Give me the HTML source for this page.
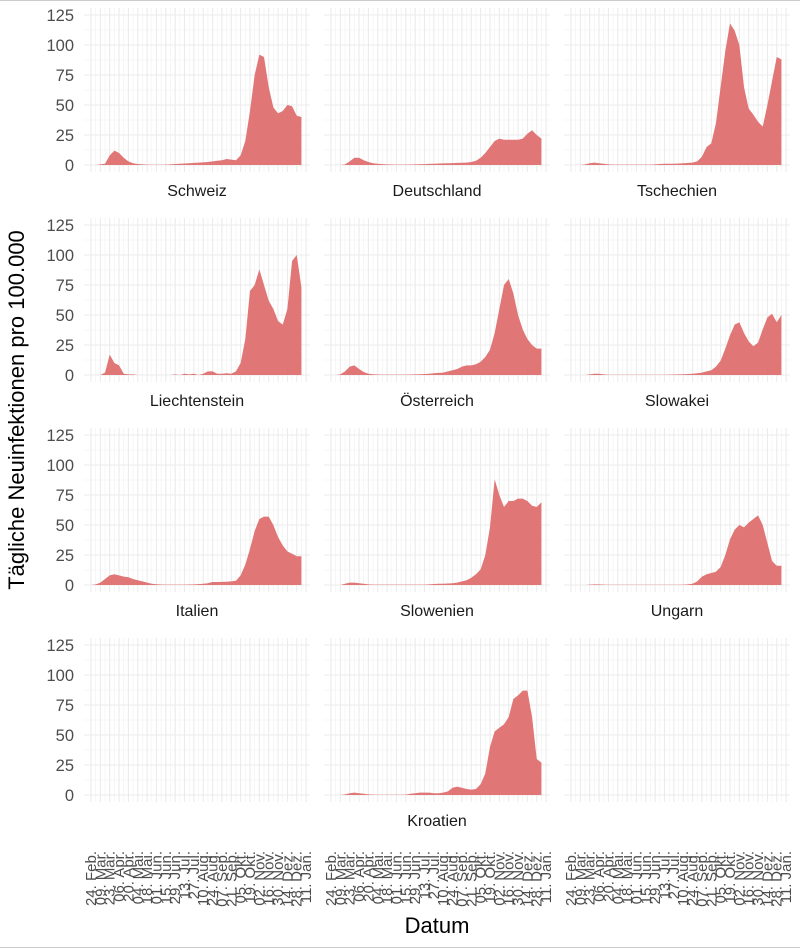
<!DOCTYPE html>
<html><head><meta charset="utf-8"><style>
html,body{margin:0;padding:0;background:#fff;}
svg{display:block;font-family:"Liberation Sans",Arial,sans-serif;}
</style></head><body>
<svg id="chart" width="800" height="950" viewBox="0 0 800 950" xmlns="http://www.w3.org/2000/svg">
<line x1="0" y1="0.5" x2="800" y2="0.5" stroke="#cccccc"/>
<line x1="0" y1="947.5" x2="800" y2="947.5" stroke="#cccccc"/>
<text x="24" y="410" font-size="22" fill="#000" text-anchor="middle" transform="rotate(-90 24 410)">Tägliche Neuinfektionen pro 100.000</text>
<text x="437" y="933" font-size="22" fill="#000" text-anchor="middle">Datum</text>
<g id="panels"></g>
</svg>
<script>
const countries = ["Schweiz","Deutschland","Tschechien","Liechtenstein","Österreich","Slowakei","Italien","Slowenien","Ungarn","Kroatien"];
const panelSlots = [0,1,2,3,4,5,6,7,8,-1,9,-1];
const yTicks = [0,25,50,75,100,125];
const tickDays = [0,14,28,42,56,70,84,98,112,126,140,154,168,182,196,210,224,238,252,266,280,294,308,322];
const tickLabels = ["24. Feb.","09. Mar.","23. Mar.","06. Apr.","20. Apr.","04. Mai.","18. Mai.","01. Jun.","15. Jun.","29. Jun.","13. Jul.","27. Jul.","10. Aug.","24. Aug.","07. Sep.","21. Sep.","05. Okt.","19. Okt.","02. Nov.","16. Nov.","30. Nov.","14. Dez.","28. Dez.","11. Jan."];
const stepDays = 7;
const schweiz = [0,0,0.5,1,8,12,10,6,3,1.5,0.8,0.5,0.3,0.2,0.2,0.2,0.3,0.5,0.8,1,1.2,1.5,1.8,2,2.2,2.5,3,3.5,4,5,4.5,4,8,20,45,75,92,90,65,48,43,45,50,49,41,40];
const deutschland = [0,0,0,0.5,3,6,6,4,2.5,1.5,1,0.7,0.5,0.4,0.3,0.3,0.3,0.4,0.5,0.6,0.7,0.9,1,1.2,1.4,1.5,1.6,1.8,1.9,2,2.5,3.5,6,10,15,20,22,21,21,21,21,22,26,29,25,22];
const tschechien = [0,0,0,0.5,1.5,2,1.5,1,0.5,0.3,0.3,0.3,0.3,0.3,0.3,0.3,0.3,0.3,0.5,0.8,1,1,1,1.2,1.5,1.8,2,3,7,15,18,35,65,95,118,112,100,65,47,42,36,32,50,70,90,88];
const liechtenstein = [0,0,0,2,17,10,8,1,0.5,0.5,0,0,0,0,0,0,0,0,0.5,0,1,0.5,1,0,1,3,3,1,1,1.5,1,3,10,30,70,75,88,75,62,55,45,42,55,95,100,73];
const oesterreich = [0,0,0.5,3,7,8,5,2.5,1,0.6,0.4,0.3,0.3,0.3,0.3,0.3,0.3,0.4,0.5,0.6,0.8,1,1.5,1.8,2,3,4,5,7,8,8,9,11,15,21,35,55,75,80,68,50,38,30,25,22,22];
const slowakei = [0,0,0,0,0.5,1,1,0.5,0.2,0.2,0.2,0.2,0.2,0.2,0.2,0.2,0.2,0.2,0.2,0.2,0.2,0.3,0.4,0.5,0.6,0.8,1,1.5,2,3,4,7,12,22,33,42,44,35,28,24,27,38,48,51,44,50];
const italien = [0,0.5,2,5,8,9,8,7,6.5,5,4,3,2,1,0.6,0.4,0.3,0.3,0.3,0.3,0.3,0.4,0.5,0.7,1,1.5,2.5,2.5,2.6,2.7,3,3.5,8,17,30,45,55,57,57,50,40,33,28,26,24,24];
const slowenien = [0,0,0,1,2,2,1.5,1,0.5,0.3,0.3,0.3,0.3,0.3,0.3,0.3,0.3,0.3,0.3,0.3,0.3,0.5,0.8,1,1,1.2,1.5,2,3,4,6,9,13,25,48,88,75,65,70,70,72,72,70,66,65,69];
const ungarn = [0,0,0,0,0.3,0.5,0.5,0.3,0.2,0.2,0.2,0.2,0.2,0.2,0.2,0.2,0.2,0.2,0.2,0.2,0.2,0.2,0.2,0.2,0.3,0.5,1,3,7,9,10,11,15,25,38,46,50,48,52,55,58,50,35,20,16,16];
const kroatien = [0,0,0,0.5,1.5,2,1.5,1,0.5,0.3,0.2,0.2,0.2,0.2,0.2,0.2,0.3,1,1.5,2,2,2,1.5,1.5,2,3,6,7,6,5,4.5,5,9,18,40,53,56,59,65,80,83,87,87,65,30,27];
const seriesList = [schweiz,deutschland,tschechien,liechtenstein,oesterreich,slowakei,italien,slowenien,ungarn,kroatien];

const NS="http://www.w3.org/2000/svg";
const root=document.getElementById('panels');
function mk(tag,attrs,parent){const e=document.createElementNS(NS,tag);for(const k in attrs)e.setAttribute(k,attrs[k]);parent.appendChild(e);return e;}
const PW=226, colX=[84,324,564], zero0=165, rowStep=210, pxPerUnit=1.2, pxPerDay=0.668, dayOff=7;
function xScale(x0,day){return x0+dayOff+day*pxPerDay;}
function yScale(z,v){return z-v*pxPerUnit;}

for(let p=0;p<12;p++){
  const r=Math.floor(p/3), c=p%3, x0=colX[c], z=zero0+r*rowStep;
  const top=yScale(z,125)-7, bot=z+7;
  const k=panelSlots[p];
  const g=mk('g',{},root);
  
  
  for(let i=0;i<yTicks.length-1;i++){
    const v=(yTicks[i]+yTicks[i+1])/2;
    mk('line',{x1:x0,x2:x0+PW,y1:yScale(z,v),y2:yScale(z,v),stroke:'#f0f0f0','stroke-width':0.6},g);
  }
  for(let i=0;i<tickDays.length;i++){
    const xm=xScale(x0,tickDays[i]);
    mk('line',{x1:xm,x2:xm,y1:top,y2:bot,stroke:'#ebebeb','stroke-width':1.1},g);
    if(i<tickDays.length-1){const xn=xScale(x0,tickDays[i]+stepDays);
      mk('line',{x1:xn,x2:xn,y1:top,y2:bot,stroke:'#f0f0f0','stroke-width':0.6},g);}
  }
  for(const v of yTicks){
    mk('line',{x1:x0,x2:x0+PW,y1:yScale(z,v),y2:yScale(z,v),stroke:'#ebebeb','stroke-width':1.1},g);
  }
  if(c===0){
    for(const v of yTicks){
      const t=mk('text',{x:74,y:yScale(z,v)+6,'font-size':16.5,fill:'#4d4d4d','text-anchor':'end'},g);
      t.textContent=v;
      
      
    }
  }
  if(k>=0){
    const s=seriesList[k];
    let d='M'+xScale(x0,0)+','+z;
    for(let i=0;i<s.length;i++) d+=' L'+xScale(x0,i*stepDays).toFixed(2)+','+yScale(z,s[i]).toFixed(2);
    d+=' L'+xScale(x0,(s.length-1)*stepDays).toFixed(2)+','+z+' Z';
    const a=mk('path',{d:d,fill:'#df6f6f','fill-opacity':0.95},g);
    
    
    const st=mk('text',{x:x0+PW/2,y:z+31,'font-size':16,fill:'#1a1a1a','text-anchor':'middle'},g);
    st.textContent=countries[k];
    
    
  }
  if(r===3){
    for(let i=0;i<tickDays.length;i++){
      const xm=xScale(x0,tickDays[i])+5;
      const t=mk('text',{x:xm,y:851,'font-size':15,fill:'#4d4d4d','text-anchor':'end',transform:'rotate(-90 '+xm+' 851)'},g);
      t.textContent=tickLabels[i];
      
      
    }
  }
}
</script>
</body></html>
